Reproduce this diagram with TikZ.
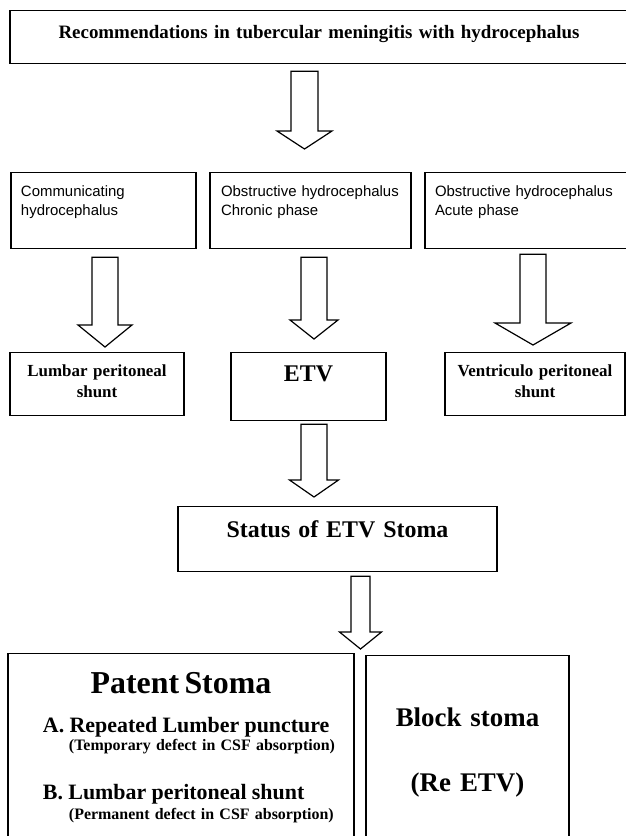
\documentclass[tikz,border=0pt]{standalone}
\usepackage{fontspec}
\setmainfont{Liberation Serif}
\setsansfont{Liberation Sans}
\usetikzlibrary{calc}

\tikzset{
  box/.style={draw, line width=1.3bp, anchor=north, inner sep=0pt, align=center},
  case/.style={box, align=left, inner xsep=10bp, font=\sffamily\fontsize{15}{19}\selectfont},
  fat arrow/.style n args={6}{draw, line width=1.2bp, to path={
    let \p1=(\tikztostart.south), \p2=(\tikztotarget.north) in
    (#1-#2,\y1-#5) -- (#1+#2,\y1-#5) -- (#1+#2,\y2+#6+#4) -- (#1+#3,\y2+#6+#4)
    -- (#1,\y2+#6) -- (#1-#3,\y2+#6+#4) -- (#1-#2,\y2+#6+#4) -- cycle}}
}

\begin{document}
\begin{tikzpicture}[x=1bp, y=-1bp]

\useasboundingbox (0,0) rectangle (626,836);

\node [box, text width=618bp, text height=28bp, text depth=25bp,
  font=\bfseries\fontsize{19}{22}\selectfont] (title) at (319,10)
  {Recommendations in tubercular meningitis with hydrocephalus};

% three cases
\node [case, text width=165bp, text height=24bp, text depth=52bp] (comm) at (103.5,172)
  {Communicating\\hydrocephalus};
\node [case, inner xsep=11bp, text width=179bp, text height=24bp, text depth=52bp] (chron) at (310.5,172)
  {\mbox{Obstructive hydrocephalus}\\Chronic phase};
\node [case, text width=183bp, text height=24bp, text depth=52bp] (acute) at (526.5,172)
  {\mbox{Obstructive hydrocephalus}\\Acute phase};

% treatments
\node [box, text width=174bp, text height=23.5bp, text depth=39.5bp,
  font=\bfseries\fontsize{17}{21}\selectfont] (lumbar) at (97,352)
  {Lumbar peritoneal\\shunt};
\node [box, text width=155bp, text height=29bp, text depth=39bp,
  font=\bfseries\fontsize{24}{28}\selectfont] (etv) at (308.5,352) {ETV};
\node [box, text width=180bp, text height=23.5bp, text depth=39.5bp,
  font=\bfseries\fontsize{17}{21}\selectfont] (vent) at (535,352)
  {Ventriculo peritoneal\\shunt};

\node [box, text width=319bp, text height=31bp, text depth=34bp,
  font=\bfseries\fontsize{24}{28}\selectfont] (status) at (337.5,506)
  {Status of ETV Stoma};

% stoma
\node [box, align=left, text width=346bp, text height=40bp, text depth=200bp,
  font=\bfseries\fontsize{16}{18}\selectfont] (patent) at (181,653)
  {\makebox[\linewidth]{\fontsize{32}{18}\selectfont Patent Stoma}\\[21bp]
   \hspace*{35bp}{\fontsize{22}{18}\selectfont A. Repeated Lumber puncture}\\
   \hspace*{61bp}(Temporary defect in CSF absorption)\\[29bp]
   \hspace*{35bp}{\fontsize{22}{18}\selectfont B. Lumbar peritoneal shunt}\\[2bp]
   \hspace*{61bp}(Permanent defect in CSF absorption)};
\node [box, text width=203bp, text height=71bp, text depth=200bp,
  font=\bfseries\fontsize{27}{65}\selectfont] (block) at (467.5,655)
  {Block stoma\\(Re ETV)};

\foreach \from/\to/\cx/\sw/\hw/\hd/\ga/\gb in
  {title/chron/304.5/13.5/27.5/18/7/23,
   comm/lumbar/105/13/27/22/8/5,
   chron/etv/314/13/24/19/8/13,
   acute/vent/533/13/38/22/5/7,
   etv/status/314/13/24.5/17/3/9,
   status/patent/360.5/9.5/21/17/4/4}
  \draw [fat arrow={\cx bp}{\sw bp}{\hw bp}{\hd bp}{\ga bp}{\gb bp}] (\from) to (\to);

\end{tikzpicture}
\end{document}
